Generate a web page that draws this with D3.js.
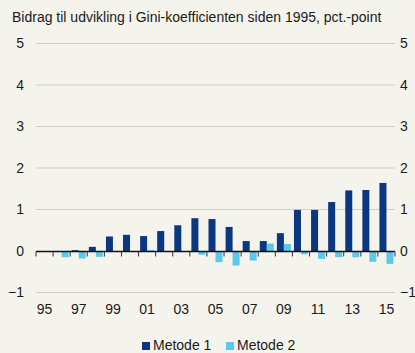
<!DOCTYPE html>
<html>
<head>
<meta charset="utf-8">
<script src="https://cdn.jsdelivr.net/npm/d3@7"></script>
<style>
  html, body { margin: 0; padding: 0; background: #f5f4ec; }
  svg { display: block; font-family: "Liberation Sans", Arial, sans-serif; }
</style>
</head>
<body>
<svg id="chart" width="415" height="353"></svg>
<script>
// Contributions to the change in the Gini coefficient since 1995, pct. points
const years = d3.range(1995, 2016);
const metode1 = [0, 0, 0.02, 0.10, 0.35, 0.39, 0.36, 0.48, 0.62, 0.79, 0.77, 0.58, 0.24, 0.24, 0.43, 0.99, 0.99, 1.18, 1.46, 1.47, 1.64];
const metode2 = [0, -0.15, -0.18, -0.14, -0.02, 0, 0.02, -0.01, -0.02, -0.09, -0.27, -0.35, -0.23, 0.18, 0.17, -0.08, -0.19, -0.15, -0.15, -0.26, -0.31];
const yTicks = [-1, 0, 1, 2, 3, 4, 5];
const xLabelYears = [1995, 1997, 1999, 2001, 2003, 2005, 2007, 2009, 2011, 2013, 2015];
const seriesNames = ["Metode 1", "Metode 2"];
const colors = ["#0b3680", "#5cc8ec"];

const svg = d3.select("#chart");
const plotLeft = 36, plotRight = 395, plotTop = 43.5, plotBottom = 292.5;
const fontSize = 14;

const x = d3.scaleBand().domain(years).range([plotLeft, plotRight]).paddingInner(0).paddingOuter(0);
const inner = d3.scaleBand().domain([0, 1]).range([0, x.bandwidth()]).paddingInner(0).paddingOuter(0.22);
const y = d3.scaleLinear().domain([-1, 5]).range([plotBottom, plotTop]);

// title
svg.append("text")
  .attr("x", 12).attr("y", 22)
  .attr("font-size", fontSize).attr("fill", "#1a1a1a")
  .text("Bidrag til udvikling i Gini-koefficienten siden 1995, pct.-point");

// gridlines
svg.append("g").selectAll("line")
  .data(yTicks.filter(d => d !== 0))
  .join("line")
  .attr("x1", plotLeft).attr("x2", plotRight)
  .attr("y1", d => y(d)).attr("y2", d => y(d))
  .attr("stroke", "#cfcec7").attr("stroke-width", 1);

// left and right value axes
const yLeft = d3.axisLeft(y).tickValues(yTicks).tickFormat(d3.format("d")).tickSize(0).tickPadding(12);
const yRight = d3.axisRight(y).tickValues(yTicks).tickFormat(d3.format("d")).tickSize(0).tickPadding(5);
const styleAxis = g => {
  g.select(".domain").remove();
  g.selectAll("text").attr("font-size", fontSize).attr("fill", "#1a1a1a")
    .attr("font-family", "Liberation Sans, Arial, sans-serif");
};
svg.append("g").attr("transform", `translate(${plotLeft},0)`).call(yLeft).call(styleAxis);
svg.append("g").attr("transform", `translate(${plotRight},0)`).call(yRight).call(styleAxis);

// bars
const series = [metode1, metode2];
series.forEach((vals, si) => {
  svg.append("g").selectAll("rect")
    .data(years.map((yr, i) => ({ yr, v: vals[i] })))
    .join("rect")
    .attr("x", d => x(d.yr) + inner(si))
    .attr("width", inner.bandwidth())
    .attr("y", d => y(Math.max(0, d.v)))
    .attr("height", d => Math.abs(y(d.v) - y(0)))
    .attr("fill", colors[si]);
});

// zero line with category ticks
const y0 = Math.round(y(0)) + 0.5;
svg.append("line")
  .attr("x1", plotLeft).attr("x2", plotRight)
  .attr("y1", y0).attr("y2", y0)
  .attr("stroke", "#111").attr("stroke-width", 1.3);
const boundaries = years.map(d => x(d)).concat([plotRight]);
svg.append("g").selectAll("line")
  .data(boundaries)
  .join("line")
  .attr("x1", d => d).attr("x2", d => d)
  .attr("y1", y0).attr("y2", y0 + 5)
  .attr("stroke", "#333").attr("stroke-width", 1);

// year labels
svg.append("g").selectAll("text")
  .data(xLabelYears)
  .join("text")
  .attr("x", d => x(d) + x.bandwidth() / 2)
  .attr("y", 314)
  .attr("text-anchor", "middle")
  .attr("font-size", fontSize).attr("fill", "#1a1a1a")
  .text(d => String(d % 100).padStart(2, "0"));

// legend
const legend = svg.append("g");
const legendX = [142, 226];
seriesNames.forEach((name, i) => {
  legend.append("rect")
    .attr("x", legendX[i]).attr("y", 342)
    .attr("width", 8).attr("height", 8)
    .attr("fill", colors[i]);
  legend.append("text")
    .attr("x", legendX[i] + 11).attr("y", 350)
    .attr("font-size", fontSize).attr("fill", "#1a1a1a")
    .text(name);
});
</script>
</body>
</html>
